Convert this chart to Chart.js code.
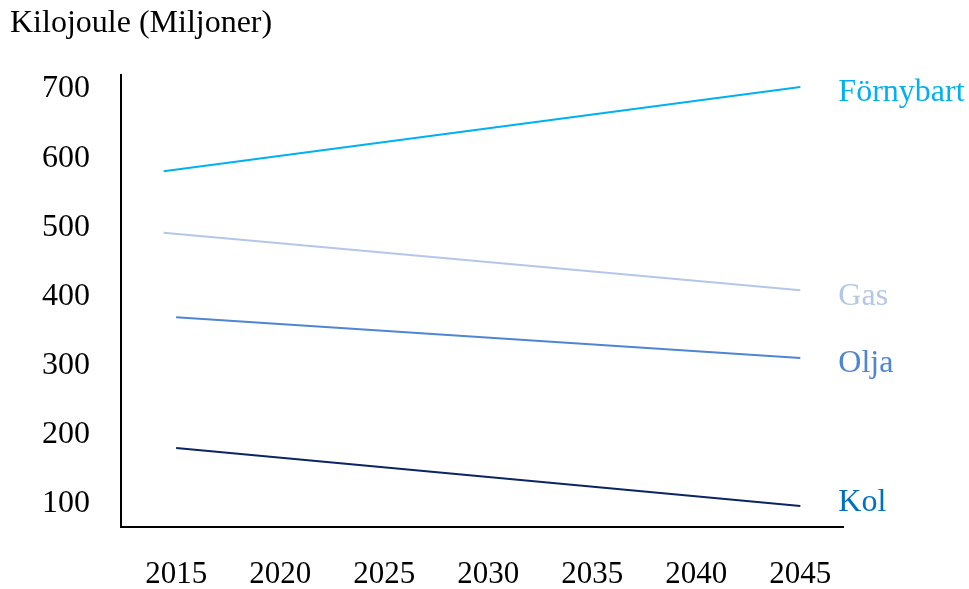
<!DOCTYPE html>
<html>
<head>
<meta charset="utf-8">
<script src="https://cdn.jsdelivr.net/npm/chart.js@4.4.0/dist/chart.umd.min.js"></script>
<style>
  html, body { margin: 0; padding: 0; background: #fff; }
  #wrap { width: 969px; height: 589px; }
</style>
</head>
<body>
<div id="wrap"><canvas id="grafico" width="969" height="589"></canvas></div>
<script>
const titel = "Kilojoule (Miljoner)";
const serier = ["Förnybart", "Gas", "Olja", "Kol"];
const startAr = [2014.4, 2014.4, 2015, 2015];
const slutAr = [2045, 2045, 2045, 2045];
const startVarden = [581, 492, 370, 181];
const slutVarden = [703, 409, 311, 97];
const arTicks = [2015, 2020, 2025, 2030, 2035, 2040, 2045];
const yTicks = [100, 200, 300, 400, 500, 600, 700];
const linjeFarger = ["#00b0f0", "#b4c7e7", "#4f86d2", "#0c2461"];
const etikettFarger = ["#00b0f0", "#b4c7e7", "#4f86d2", "#0070c0"];

const typsnitt = "'Liberation Serif', 'Times New Roman', serif";

const datasets = serier.map((namn, i) => ({
  label: namn,
  data: [
    { x: startAr[i], y: startVarden[i] },
    { x: slutAr[i], y: slutVarden[i] }
  ],
  borderColor: linjeFarger[i],
  borderWidth: 2,
  pointRadius: 0,
  fill: false,
  tension: 0
}));

// titel uppe till vänster + namn vid slutet av varje linje
const etiketter = {
  id: "etiketter",
  afterDatasetsDraw(chart) {
    const ctx = chart.ctx;
    const xs = chart.scales.x;
    const ys = chart.scales.y;
    ctx.save();
    ctx.font = "32px " + typsnitt;
    ctx.textBaseline = "middle";
    ctx.textAlign = "left";
    ctx.fillStyle = "#000";
    ctx.fillText(titel, 10, 24);
    serier.forEach((namn, i) => {
      const px = xs.getPixelForValue(slutAr[i]) + 38;
      let py = ys.getPixelForValue(slutVarden[i]) + 6;
      py = Math.min(py, chart.chartArea.bottom - 24);
      ctx.fillStyle = etikettFarger[i];
      ctx.fillText(namn, px, py);
    });
    ctx.restore();
  }
};

new Chart(document.getElementById("grafico"), {
  type: "line",
  data: { datasets },
  plugins: [etiketter],
  options: {
    responsive: false,
    animation: false,
    layout: { padding: { top: 75, right: 126, left: 0, bottom: 0 } },
    plugins: { legend: { display: false }, tooltip: { enabled: false } },
    scales: {
      x: {
        type: "linear",
        min: 2012.35,
        max: 2047.05,
        grid: { display: false, drawTicks: false },
        border: { display: true, color: "#000", width: 2 },
        afterBuildTicks: s => { s.ticks = arTicks.map(v => ({ value: v })); },
        afterFit: s => { s.height = 62; },
        ticks: {
          color: "#000",
          padding: 29,
          font: { family: typsnitt, size: 31 },
          maxRotation: 0,
          callback: v => String(v)
        }
      },
      y: {
        min: 66.7,
        max: 720.2,
        grid: { display: false, drawTicks: false },
        border: { display: true, color: "#000", width: 2 },
        afterBuildTicks: s => { s.ticks = yTicks.map(v => ({ value: v })); },
        afterFit: s => { s.width = 121; },
        ticks: {
          color: "#000",
          padding: 31,
          font: { family: typsnitt, size: 32 },
          callback: v => String(v)
        }
      }
    }
  }
});
</script>
</body>
</html>
